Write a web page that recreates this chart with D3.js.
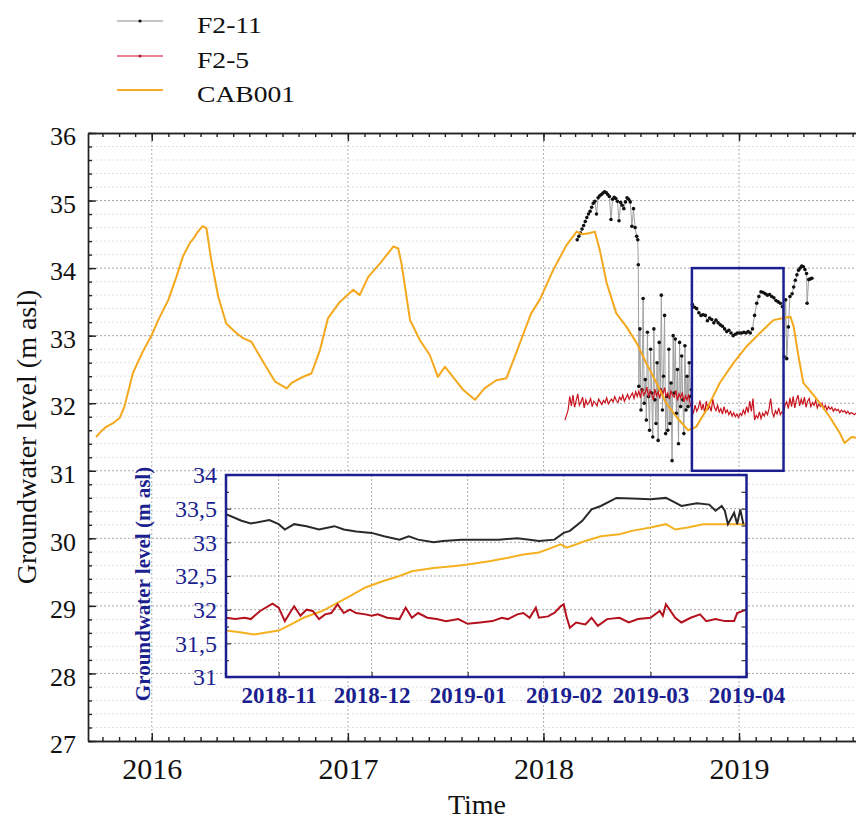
<!DOCTYPE html>
<html><head><meta charset="utf-8">
<script src="https://cdn.jsdelivr.net/npm/d3@7"></script>
<style>
body{margin:0;background:#fff}
svg{display:block}
svg text{font-family:"Liberation Serif","Times New Roman",Times,serif !important}
</style></head>
<body><svg id="c" width="856" height="821"></svg>
<script>
// ---------------- DATA ----------------
const legendNames = ["F2-11", "F2-5", "CAB001"];
const yearTicks = ["2016-01-01","2017-01-01","2018-01-01","2019-01-01"];
const yTickValues = [27,28,29,30,31,32,33,34,35,36];
const insetYTicks = [31,31.5,32,32.5,33,33.5,34];
const insetMonthTicks = ["2018-11-01","2018-12-01","2019-01-01","2019-02-01","2019-03-01","2019-04-01"];
const zoomWindow = ["2018-10-05","2019-03-25"];   // blue box in main chart (dates)
const zoomLevels = [31, 34];

const cab001 = [
["2015-09-19",31.50],["2015-09-28",31.58],["2015-10-08",31.65],["2015-10-20",31.70],["2015-11-02",31.78],
["2015-11-11",31.95],["2015-11-27",32.45],["2015-12-15",32.76],["2016-01-01",33.01],["2016-01-13",33.23],
["2016-02-01",33.53],["2016-02-16",33.87],["2016-02-28",34.17],["2016-03-06",34.28],["2016-03-12",34.37],
["2016-03-20",34.45],["2016-03-27",34.54],["2016-04-05",34.62],["2016-04-12",34.59],["2016-04-21",34.12],
["2016-05-04",33.58],["2016-05-19",33.18],["2016-06-05",33.05],["2016-06-20",32.96],["2016-07-05",32.91],
["2016-07-27",32.61],["2016-08-18",32.32],["2016-09-09",32.22],["2016-09-18",32.30],["2016-09-27",32.34],
["2016-10-12",32.40],["2016-10-25",32.44],["2016-11-10",32.79],["2016-11-25",33.26],["2016-12-17",33.50],
["2017-01-11",33.68],["2017-01-23",33.60],["2017-02-08",33.87],["2017-03-02",34.07],["2017-03-27",34.32],
["2017-04-05",34.29],["2017-04-11",34.07],["2017-04-27",33.23],["2017-05-15",32.94],["2017-06-03",32.71],
["2017-06-18",32.39],["2017-07-01",32.54],["2017-07-16",32.39],["2017-08-04",32.20],["2017-08-26",32.05],
["2017-09-13",32.22],["2017-10-05",32.34],["2017-10-24",32.37],["2017-11-11",32.74],["2017-11-27",33.08],
["2017-12-09",33.33],["2017-12-25",33.53],["2018-01-19",33.97],["2018-02-13",34.34],["2018-03-04",34.54],
["2018-03-15",34.50],["2018-03-29",34.52],["2018-04-07",34.54],["2018-04-16",34.27],["2018-04-29",33.78],
["2018-05-17",33.33],["2018-06-05",33.13],["2018-06-24",32.89],["2018-07-12",32.59],["2018-07-31",32.30],
["2018-08-18",32.00],["2018-09-06",31.80],["2018-09-28",31.60],["2018-10-13",31.65],["2018-11-01",31.90],
["2018-11-26",32.30],["2018-12-21",32.59],["2019-01-15",32.84],["2019-02-09",33.04],["2019-03-06",33.23],
["2019-03-25",33.26],["2019-04-07",33.28],["2019-04-13",33.13],["2019-04-22",32.69],["2019-05-01",32.30],
["2019-05-17",32.15],["2019-06-01",32.00],["2019-06-19",31.80],["2019-07-08",31.56],["2019-07-17",31.41],
["2019-07-30",31.50],["2019-08-07",31.49],["2019-08-20",31.45]
];

// F2-5 sampled every 3 days from f25Start
const f25Start = "2018-02-10";
const f25StepDays = 3;
const f25Values = [
31.75,31.82,31.90,32.10,31.96,32.12,31.94,32.04,32.14,31.97,32.02,32.09,31.93,32.05,31.98,32.01,32.07,31.95,32.03,32.00,
31.96,32.06,32.02,31.98,32.04,32.01,32.08,31.99,32.03,32.06,32.02,32.10,32.04,32.01,32.09,32.05,32.12,32.03,32.08,32.13,
32.06,32.11,32.15,32.07,32.17,32.10,
32.18,32.08,32.22,32.12,32.16,32.24,32.09,32.19,32.13,32.05,32.21,32.11,32.17,32.07,32.20,32.14,32.23,32.10,32.15,32.06,
32.18,32.12,32.09,32.19,32.04,32.14,32.08,32.16,32.02,32.11,32.05,32.13,31.98,
31.92,31.86,31.97,31.88,31.93,32.04,31.90,31.99,31.85,32.03,31.91,31.96,31.88,32.06,31.94,31.89,31.97,31.87,31.92,31.84,
31.95,31.86,31.90,31.83,31.88,31.81,31.86,31.80,31.84,31.79,31.85,31.82,31.90,31.84,31.95,31.86,32.03,31.88,32.07,31.75,
31.82,31.78,31.87,31.77,31.85,31.81,31.88,31.83,31.92,32.07,31.86,31.80,31.89,31.84,31.93,31.83,31.87,31.85,31.98,
32.02,31.92,32.08,31.95,32.10,31.93,32.05,32.12,31.96,32.06,31.98,32.09,31.94,32.03,32.07,31.95,32.01,31.97,32.04,31.93,
31.99,31.95,32.00,31.92,31.97,31.90,31.95,31.91,31.94,31.88,31.92,31.89,31.91,31.86,31.90,31.87,31.89,31.85,31.88,31.84,
31.86,31.85,31.83,31.85,31.82
];

const f211 = [
["2018-03-05",34.42],["2018-03-08",34.47],["2018-03-11",34.52],["2018-03-14",34.58],["2018-03-17",34.63],
["2018-03-20",34.69],["2018-03-23",34.75],["2018-03-26",34.80],["2018-03-29",34.84],["2018-04-01",34.90],
["2018-04-04",34.96],["2018-04-07",34.99],["2018-04-10",34.80],["2018-04-13",35.04],["2018-04-16",35.07],
["2018-04-19",35.09],["2018-04-22",35.11],["2018-04-25",35.13],["2018-04-28",35.12],["2018-05-01",35.09],
["2018-05-04",35.06],["2018-05-07",34.72],["2018-05-10",35.02],["2018-05-13",35.05],["2018-05-16",35.03],
["2018-05-19",34.99],["2018-05-22",34.70],["2018-05-25",34.97],["2018-05-28",34.93],["2018-05-31",34.88],
["2018-06-03",34.98],["2018-06-06",35.04],["2018-06-09",35.02],["2018-06-12",34.98],["2018-06-15",34.62],
["2018-06-18",34.88],["2018-06-21",34.60],["2018-06-24",34.47],["2018-06-26",34.42],["2018-06-27",34.05],
["2018-06-28",32.25],["2018-06-30",33.10],["2018-07-02",31.90],["2018-07-04",32.20],["2018-07-06",33.55],
["2018-07-08",32.00],["2018-07-10",32.35],["2018-07-12",31.75],["2018-07-14",33.05],["2018-07-16",32.10],
["2018-07-18",31.60],["2018-07-20",32.80],["2018-07-22",32.15],["2018-07-24",31.50],["2018-07-26",33.10],
["2018-07-28",32.05],["2018-07-30",31.70],["2018-08-01",32.60],["2018-08-03",31.45],["2018-08-05",32.90],
["2018-08-07",32.20],["2018-08-09",33.60],["2018-08-11",31.90],["2018-08-13",32.40],["2018-08-15",33.30],
["2018-08-17",31.55],["2018-08-19",32.10],["2018-08-21",31.60],["2018-08-23",32.80],["2018-08-25",31.70],
["2018-08-27",32.30],["2018-08-29",31.15],["2018-08-31",33.00],["2018-09-02",32.15],["2018-09-04",32.95],
["2018-09-06",31.85],["2018-09-08",32.50],["2018-09-10",31.40],["2018-09-12",32.90],["2018-09-14",31.95],
["2018-09-16",32.70],["2018-09-18",32.05],["2018-09-20",31.55],["2018-09-22",32.85],["2018-09-24",31.90],
["2018-09-26",32.40],["2018-09-28",31.95],["2018-09-30",32.60],["2018-10-02",32.10],["2018-10-04",32.20],
["2018-10-06",33.46],["2018-10-10",33.42],["2018-10-14",33.40],["2018-10-18",33.34],["2018-10-22",33.30],
["2018-10-26",33.31],["2018-10-30",33.30],["2018-11-03",33.22],["2018-11-07",33.26],["2018-11-11",33.24],
["2018-11-15",33.19],["2018-11-19",33.23],["2018-11-23",33.19],["2018-11-27",33.16],["2018-12-01",33.14],
["2018-12-05",33.10],["2018-12-09",33.06],["2018-12-13",33.08],["2018-12-17",33.04],["2018-12-21",33.00],
["2018-12-25",33.02],["2018-12-29",33.04],["2019-01-02",33.04],["2019-01-06",33.04],["2019-01-10",33.05],
["2019-01-14",33.04],["2019-01-18",33.06],["2019-01-22",33.04],["2019-01-26",33.10],["2019-01-30",33.30],
["2019-02-03",33.48],["2019-02-07",33.58],["2019-02-11",33.65],["2019-02-15",33.64],["2019-02-19",33.62],
["2019-02-23",33.60],["2019-02-27",33.61],["2019-03-03",33.58],["2019-03-07",33.56],["2019-03-11",33.52],
["2019-03-15",33.50],["2019-03-19",33.48],["2019-03-23",33.43],["2019-03-26",32.69],["2019-03-29",33.53],
["2019-03-31",32.66],["2019-04-03",33.13],["2019-04-06",33.58],["2019-04-10",33.62],["2019-04-13",33.72],
["2019-04-16",33.82],["2019-04-19",33.90],["2019-04-22",33.97],["2019-04-25",34.00],["2019-04-28",34.03],
["2019-05-01",34.02],["2019-05-04",33.98],["2019-05-07",33.92],["2019-05-08",33.48],["2019-05-11",33.83],
["2019-05-14",33.84],["2019-05-17",33.85]
];

// inset (zoomed window) series
const insetF211 = [
["2018-10-15",33.42],["2018-10-20",33.32],["2018-10-23",33.28],["2018-10-29",33.33],["2018-11-01",33.27],
["2018-11-03",33.19],["2018-11-06",33.27],["2018-11-10",33.24],["2018-11-14",33.19],["2018-11-19",33.24],
["2018-11-22",33.19],["2018-11-26",33.16],["2018-12-01",33.14],["2018-12-05",33.09],["2018-12-10",33.04],
["2018-12-13",33.09],["2018-12-16",33.04],["2018-12-21",33.00],["2018-12-24",33.02],["2018-12-30",33.04],
["2019-01-05",33.04],["2019-01-11",33.04],["2019-01-17",33.06],["2019-01-21",33.04],["2019-01-24",33.02],
["2019-01-29",33.04],["2019-02-01",33.14],["2019-02-03",33.17],["2019-02-07",33.32],["2019-02-10",33.49],
["2019-02-13",33.54],["2019-02-18",33.66],["2019-02-23",33.65],["2019-03-01",33.64],["2019-03-06",33.66],
["2019-03-09",33.59],["2019-03-11",33.54],["2019-03-16",33.58],["2019-03-20",33.56],["2019-03-22",33.47],
["2019-03-24",33.54],["2019-03-25",33.47],["2019-03-26",33.27],["2019-03-28",33.44],["2019-03-29",33.27],
["2019-03-30",33.49],["2019-03-31",33.27]
];
const insetCab = [
["2018-10-15",31.69],["2018-10-20",31.66],["2018-10-24",31.63],["2018-10-28",31.66],["2018-11-01",31.69],
["2018-11-05",31.78],["2018-11-09",31.88],["2018-11-15",31.98],["2018-11-20",32.10],["2018-11-24",32.20],
["2018-11-29",32.33],["2018-12-05",32.43],["2018-12-10",32.50],["2018-12-14",32.57],["2018-12-21",32.62],
["2018-12-28",32.65],["2019-01-01",32.67],["2019-01-08",32.72],["2019-01-14",32.77],["2019-01-19",32.82],
["2019-01-24",32.85],["2019-01-27",32.90],["2019-01-31",32.97],["2019-02-02",32.92],["2019-02-08",33.02],
["2019-02-13",33.09],["2019-02-19",33.12],["2019-02-23",33.17],["2019-03-01",33.22],["2019-03-06",33.27],
["2019-03-09",33.19],["2019-03-13",33.22],["2019-03-18",33.27],["2019-03-23",33.27],["2019-04-01",33.27]
];
const insetF25 = [
["2018-10-15",31.88],["2018-10-18",31.86],["2018-10-21",31.88],["2018-10-23",31.86],["2018-10-26",31.98],
["2018-10-30",32.09],["2018-11-01",32.03],["2018-11-03",31.83],["2018-11-05",31.98],["2018-11-06",32.05],
["2018-11-08",31.91],["2018-11-10",32.00],["2018-11-12",31.98],["2018-11-14",31.86],["2018-11-16",31.93],
["2018-11-18",31.95],["2018-11-20",32.08],["2018-11-22",31.95],["2018-11-24",32.00],["2018-11-26",31.95],
["2018-11-29",31.93],["2018-12-01",31.91],["2018-12-03",31.93],["2018-12-06",31.88],["2018-12-10",31.86],
["2018-12-12",32.03],["2018-12-14",31.88],["2018-12-16",31.95],["2018-12-19",31.88],["2018-12-22",31.86],
["2018-12-25",31.83],["2018-12-29",31.86],["2019-01-01",31.79],["2019-01-05",31.81],["2019-01-09",31.83],
["2019-01-12",31.88],["2019-01-14",31.86],["2019-01-17",31.93],["2019-01-19",31.95],["2019-01-21",31.88],
["2019-01-23",32.03],["2019-01-24",31.88],["2019-01-27",31.90],["2019-01-28",31.93],["2019-01-29",31.95],
["2019-01-31",32.05],["2019-02-01",32.08],["2019-02-02",31.88],["2019-02-03",31.73],["2019-02-05",31.81],
["2019-02-08",31.78],["2019-02-10",31.88],["2019-02-12",31.76],["2019-02-15",31.86],["2019-02-19",31.88],
["2019-02-22",31.81],["2019-02-25",31.86],["2019-03-01",31.88],["2019-03-04",31.98],["2019-03-05",31.91],
["2019-03-06",32.08],["2019-03-09",31.88],["2019-03-11",31.81],["2019-03-14",31.88],["2019-03-17",31.93],
["2019-03-19",31.83],["2019-03-22",31.86],["2019-03-25",31.83],["2019-03-28",31.83],["2019-03-29",31.95],
["2019-04-01",32.00]
];

// ---------------- STYLE ----------------
const FONT = '"Liberation Serif","Times New Roman",Times,serif';
const C = {black:"#111", grey:"#a0a0a0", red:"#c8141e", orange:"#f4a81d", navy:"#1c1f8f",
           insRed:"#b3111d", insBlack:"#2a2a2a", insOrange:"#f5b121"};
const parse = d3.timeParse("%Y-%m-%d");
const svg = d3.select("#c");
function stretch(sel, s){
  sel.each(function(){ const t=d3.select(this); const x=+t.attr("x")||0;
    t.attr("transform",`translate(${x*(1-s)},0) scale(${s},1)`); });
}

// ---------------- MAIN SCALES ----------------
const L=88, T=133, B=741, R=884.8;
const x = d3.scaleTime().domain([parse("2015-09-04"), parse("2019-09-30")]).range([L, R]);
const y = d3.scaleLinear().domain([27,36]).range([B, T]);

// grid
const grid = svg.append("g");
grid.selectAll(".mn").data(d3.range(27,36.001,0.2).filter(v=>Math.abs(v-Math.round(v))>1e-6))
  .join("line").attr("x1",L).attr("x2",R).attr("y1",d=>y(d)).attr("y2",d=>y(d))
  .attr("stroke","#e2e2e2").attr("stroke-dasharray","2,2");
grid.selectAll(".mj").data(yTickValues.slice(1,-1)).join("line")
  .attr("x1",L).attr("x2",R).attr("y1",d=>y(d)).attr("y2",d=>y(d))
  .attr("stroke","#a8a8a8").attr("stroke-dasharray","2,2");
grid.selectAll(".vx").data(yearTicks.map(parse)).join("line")
  .attr("x1",d=>x(d)).attr("x2",d=>x(d)).attr("y1",T).attr("y2",B)
  .attr("stroke","#b0b0b0").attr("stroke-dasharray","2,2");

// clip
svg.append("clipPath").attr("id","pc").append("rect").attr("x",L).attr("y",T).attr("width",R-L).attr("height",B-T);
const plot = svg.append("g").attr("clip-path","url(#pc)");

const line = d3.line().x(d=>x(d[0])).y(d=>y(d[1]));
const f211d = f211.map(d=>[parse(d[0]), d[1]]);
plot.append("path").attr("d", line(f211d)).attr("fill","none").attr("stroke",C.grey).attr("stroke-width",1);
plot.selectAll(".p11").data(f211d).join("circle").attr("cx",d=>x(d[0])).attr("cy",d=>y(d[1]))
  .attr("r",1.8).attr("fill",C.black);

const f25d = f25Values.map((v,i)=>[d3.timeDay.offset(parse(f25Start), i*f25StepDays), v]);
plot.append("path").attr("d", line(f25d)).attr("fill","none").attr("stroke",C.red).attr("stroke-width",1.2);

const cabd = cab001.map(d=>[parse(d[0]), d[1]]);
plot.append("path").attr("d", line(cabd)).attr("fill","none").attr("stroke",C.orange).attr("stroke-width",2)
  .attr("stroke-linejoin","round");

// zoom box
svg.append("rect").attr("x",x(parse(zoomWindow[0]))).attr("y",y(zoomLevels[1]))
  .attr("width",x(parse(zoomWindow[1]))-x(parse(zoomWindow[0])))
  .attr("height",y(zoomLevels[0])-y(zoomLevels[1]))
  .attr("fill","none").attr("stroke",C.navy).attr("stroke-width",2.5);

// axes
function styleAxis(g){ g.attr("font-family",FONT); g.selectAll("path,line").attr("stroke","#222").attr("stroke-width",1.4); }
const months = d3.timeMonth.every(1);
svg.append("g").attr("transform",`translate(0,${B})`)
  .call(d3.axisBottom(x).ticks(months).tickSize(-4).tickSizeOuter(0).tickFormat(""))
  .call(styleAxis);
const xb = svg.append("g").attr("transform",`translate(0,${B})`)
  .call(d3.axisBottom(x).tickValues(yearTicks.map(parse)).tickSize(-8).tickSizeOuter(0).tickPadding(17)
        .tickFormat(d3.timeFormat("%Y")))
  .call(styleAxis);
xb.selectAll("text").attr("font-size",30).attr("fill","#111");
svg.append("g").attr("transform",`translate(0,${T})`)
  .call(d3.axisTop(x).ticks(months).tickSize(-4).tickSizeOuter(0).tickFormat("")).call(styleAxis);
svg.append("g").attr("transform",`translate(0,${T})`)
  .call(d3.axisTop(x).tickValues(yearTicks.map(parse)).tickSize(-8).tickSizeOuter(0).tickFormat(""))
  .call(styleAxis);
svg.append("g").attr("transform",`translate(${L},0)`)
  .call(d3.axisLeft(y).tickValues(d3.range(27,36.001,0.2)).tickSize(-4).tickSizeOuter(0).tickFormat(""))
  .call(styleAxis);
const yl = svg.append("g").attr("transform",`translate(${L},0)`)
  .call(d3.axisLeft(y).tickValues(yTickValues).tickSize(-8).tickSizeOuter(0).tickPadding(12))
  .call(styleAxis);
yl.selectAll("text").attr("font-size",26).attr("fill","#111").attr("dy","0.45em");

svg.append("text").attr("x",477).attr("y",814).attr("text-anchor","middle").attr("font-size",28)
  .attr("fill","#111").text("Time");
svg.append("text").attr("transform","translate(36,437) rotate(-90)").attr("text-anchor","middle")
  .attr("font-size",28).attr("fill","#111").text("Groundwater level (m asl)");

// legend
const lg = svg.append("g");
const legY = [21, 56, 90];
const legCol = ["#c4c4c4", "#e58193", "#f4ad2a"];
legendNames.forEach((n,i)=>{
  lg.append("line").attr("x1",117).attr("x2",163).attr("y1",legY[i]).attr("y2",legY[i])
    .attr("stroke",legCol[i]).attr("stroke-width",2);
  if(i<2) lg.append("circle").attr("cx",140).attr("cy",legY[i]).attr("r",1.6).attr("fill",i===0?"#111":"#b02040");
  lg.append("text").attr("x",197).attr("y",legY[i]+12).attr("font-size",24).attr("fill","#111").text(n)
    .call(stretch,1.15);
});

// ---------------- INSET ----------------
const iL=226, iT=475, iR=746.5, iB=677;
const xi = d3.scaleTime().domain([parse("2018-10-15"), parse("2019-04-01")]).range([iL, iR]);
const yi = d3.scaleLinear().domain([31,34]).range([iB, iT]);
const ins = svg.append("g");
ins.append("rect").attr("x",iL).attr("y",iT).attr("width",iR-iL).attr("height",iB-iT).attr("fill","#fff");
ins.selectAll(".ih").data(insetYTicks.slice(1,-1)).join("line")
  .attr("x1",iL).attr("x2",iR).attr("y1",d=>yi(d)).attr("y2",d=>yi(d))
  .attr("stroke","#a8a8a8").attr("stroke-dasharray","2,2");
ins.selectAll(".iv").data(insetMonthTicks.map(parse)).join("line")
  .attr("x1",d=>xi(d)).attr("x2",d=>xi(d)).attr("y1",iT).attr("y2",iB)
  .attr("stroke","#a8a8a8").attr("stroke-dasharray","2,2");
ins.append("clipPath").attr("id","ic").append("rect").attr("x",iL).attr("y",iT).attr("width",iR-iL).attr("height",iB-iT);
const ip = ins.append("g").attr("clip-path","url(#ic)");
const iline = d3.line().x(d=>xi(parse(d[0]))).y(d=>yi(d[1]));
ip.append("path").attr("d",iline(insetCab)).attr("fill","none").attr("stroke",C.insOrange).attr("stroke-width",2);
ip.append("path").attr("d",iline(insetF25)).attr("fill","none").attr("stroke",C.insRed).attr("stroke-width",2);
ip.append("path").attr("d",iline(insetF211)).attr("fill","none").attr("stroke",C.insBlack).attr("stroke-width",2);

function styleIns(g){ g.attr("font-family",FONT); g.selectAll("line").attr("stroke","#333").attr("stroke-width",1.2); g.select(".domain").remove(); }
const iy = ins.append("g").attr("transform",`translate(${iL},0)`)
  .call(d3.axisLeft(yi).tickValues(insetYTicks).tickSize(-5).tickPadding(9).tickFormat(d=>String(d).replace(".",",")))
  .call(styleIns);
iy.selectAll("text").attr("font-size",24).attr("fill",C.navy);
ins.append("g").attr("transform",`translate(${iL},0)`)
  .call(d3.axisLeft(yi).tickValues(d3.range(31.25,34,0.5)).tickSize(-3).tickFormat("")).call(styleIns);
ins.append("g").attr("transform",`translate(${iR},0)`)
  .call(d3.axisRight(yi).tickValues(d3.range(31,34.001,0.25)).tickSize(-5).tickFormat("")).call(styleIns);
const ix = ins.append("g").attr("transform",`translate(0,${iB})`)
  .call(d3.axisBottom(xi).tickValues(insetMonthTicks.map(parse)).tickSize(-5).tickPadding(10)
        .tickFormat(d3.timeFormat("%Y-%m")))
  .call(styleIns);
ix.selectAll("text").attr("font-size",23).attr("font-weight","bold").attr("fill",C.navy);
ins.append("rect").attr("x",iL).attr("y",iT).attr("width",iR-iL).attr("height",iB-iT)
  .attr("fill","none").attr("stroke",C.navy).attr("stroke-width",2.5);
ins.append("text").attr("transform",`translate(150,${(iT+iB)/2+8}) rotate(-90)`).attr("text-anchor","middle")
  .attr("font-size",21).attr("font-weight","bold").attr("fill",C.navy).text("Groundwater level (m asl)");
</script>
</body></html>
